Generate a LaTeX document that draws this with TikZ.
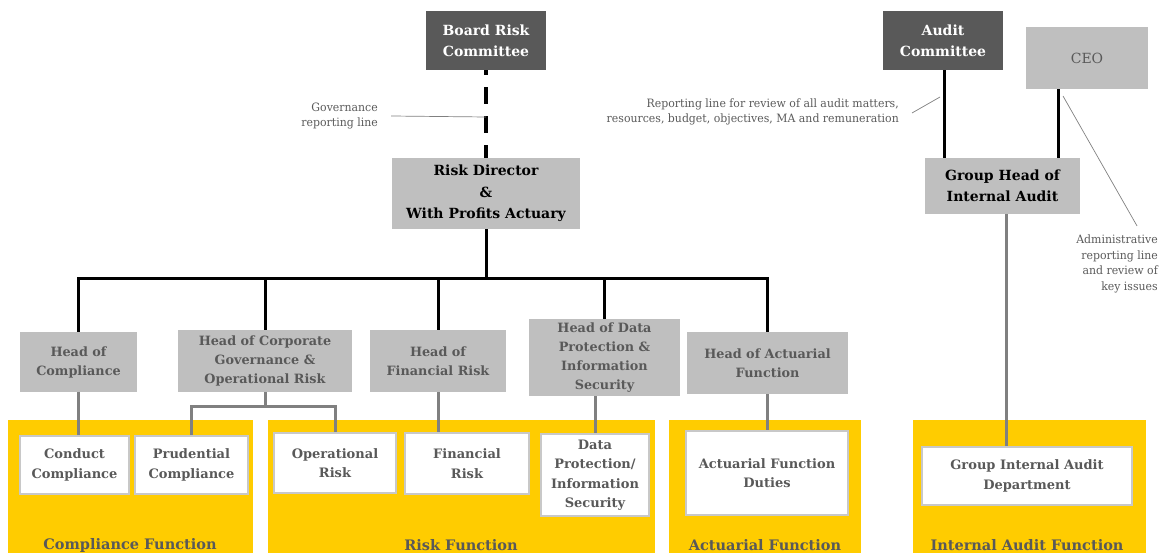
\documentclass[tikz,border=0pt]{standalone}
\usepackage{fontspec}
\setmainfont{DejaVu Serif}
\newfontfamily\notefont{DejaVu Serif}[FakeStretch=0.95]
\usepackage{tikz}
\usetikzlibrary{positioning}

\definecolor{boardgrey}{HTML}{595959}
\definecolor{headgrey}{HTML}{BFBFBF}
\definecolor{txtgrey}{HTML}{595959}
\definecolor{linegrey}{HTML}{808080}
\definecolor{edgegrey}{HTML}{C8C8C8}
\definecolor{notegrey}{HTML}{5A5A5A}
\definecolor{panelyellow}{HTML}{FFCC00}

\tikzset{
  board/.style={fill=boardgrey, text=white, font=\fontsize{14}{21}\selectfont\bfseries, align=center, inner sep=0pt},
  officer/.style={fill=headgrey, text=black, font=\fontsize{14}{21.5}\selectfont\bfseries, align=center, inner sep=0pt},
  head/.style={fill=headgrey, text=txtgrey, font=\fontsize{12.8}{19}\selectfont\bfseries, align=center, inner sep=0pt},
  duty/.style={fill=white, draw=edgegrey, line width=1.2pt, text=txtgrey, font=\fontsize{13}{19.5}\selectfont\bfseries, align=center, inner sep=0pt},
  panel/.style={fill=panelyellow},
  paneltitle/.style={text=txtgrey, font=\fontsize{14.5}{18}\selectfont\bfseries},
  boss/.style={line width=3pt, black},
  subline/.style={line width=3pt, linegrey},
  note/.style={font=\notefont\fontsize{11.5}{15.5}\selectfont, text=notegrey, align=right, inner sep=0pt},
  noteline/.style={line width=0.7pt, linegrey},
}

\begin{document}
\begin{tikzpicture}[x=1pt, y=-1pt]
  \useasboundingbox (0,0) rectangle (1165,553);

  % function panels
  \fill[panel] (8,420) rectangle (253,553);
  \fill[panel] (268,420) rectangle (655,553);
  \fill[panel] (669,420) rectangle (861,553);
  \fill[panel] (913,420) rectangle (1146,553);
  \draw (130,545) node[paneltitle] (compf) {Compliance Function};
  \draw (461,545) node[paneltitle] (riskf) {Risk Function};
  \draw (765,545) node[paneltitle] (actf) {Actuarial Function};
  \draw (1027,545) node[paneltitle] (iaf) {Internal Audit Function};

  % risk side
  \draw (486,40.5) node[board, minimum width=120, minimum height=59] (brc) {Board Risk\\Committee};
  \draw (486,193.5) node[officer, minimum width=188, minimum height=71] (rd) {Risk Director\\\&\\With Profits Actuary};

  \draw (78.5,362) node[head, minimum width=117, minimum height=59] (hcomp) {Head of\\Compliance};
  \draw (265,361) node[head, minimum width=174, minimum height=62] (hcg) {Head of Corporate\\Governance \&\\Operational Risk};
  \draw (438,361) node[head, minimum width=136, minimum height=62] (hfr) {Head of\\Financial Risk};
  \draw (604.5,357.5) node[head, minimum width=151, minimum height=77] (hdp) {Head of Data\\Protection \&\\Information\\Security};
  \draw (767.5,363) node[head, minimum width=161, minimum height=62] (hact) {Head of Actuarial\\Function};

  \draw (74.5,465) node[duty, minimum width=109, minimum height=58] (cc) {Conduct\\Compliance};
  \draw (191.5,465) node[duty, minimum width=113, minimum height=58] (pc) {Prudential\\Compliance};
  \draw (335,463) node[duty, minimum width=122, minimum height=60] (orisk) {Operational\\Risk};
  \draw (467,463.5) node[duty, minimum width=124, minimum height=61] (frisk) {Financial\\Risk};
  \draw (595,475) node[duty, minimum width=108, minimum height=82] (dps) {Data\\Protection/\\Information\\Security};
  \draw (767,473) node[duty, minimum width=162, minimum height=84] (afd) {Actuarial Function\\Duties};

  % audit side
  \draw (943,40.5) node[board, minimum width=120, minimum height=59] (ac) {Audit\\Committee};
  \draw (1087,58) node[head, font=\fontsize{14}{19}\selectfont, minimum width=122, minimum height=62] (ceo) {CEO};
  \draw (1002.5,186) node[officer, minimum width=155, minimum height=56] (ghia) {Group Head of\\Internal Audit};
  \draw (1027,476) node[duty, minimum width=210, minimum height=58] (giad) {Group Internal Audit\\Department};

  % reporting lines
  \draw[line width=4pt, dash pattern=on 17pt off 12pt, dash phase=12pt] (brc.south) -- (rd.north);
  \coordinate (bus) at (486,279);
  \draw[boss] (rd.south) -- (bus);
  \foreach \n in {hcomp,hcg,hfr,hdp,hact}
    \draw[boss] (bus) -| (\n.north);

  \draw[subline] (hcomp.south) -- (hcomp.south |- cc.north);
  \coordinate (split) at (265,406);
  \draw[subline] (hcg.south) -- (split);
  \draw[subline] (split) -| (pc.north);
  \draw[subline] (split) -| (orisk.north);
  \draw[subline] (hfr.south) -- (hfr.south |- frisk.north);
  \draw[subline] (dps.north |- hdp.south) -- (dps.north);
  \draw[subline] (hact.south) -- (hact.south |- afd.north);
  \draw[subline] ([xshift=3.5pt]ghia.south) -- ([xshift=3.5pt]ghia.south |- giad.north);

  \draw[boss] ([xshift=1.5pt]ac.south) -- ([xshift=1.5pt]ac.south |- ghia.north);
  \draw[boss] ([xshift=-29pt]ceo.south) -- ([xshift=-29pt]ceo.south |- ghia.north);

  % notes
  \draw (378,116) node[note, anchor=east] (govnote) {Governance\\reporting line};
  \coordinate (govpt) at (486,117);
  \draw[noteline] ([xshift=13pt]govnote.east) -- (govpt);

  \draw (899,112) node[note, anchor=east] (acnote) {Reporting line for review of all audit matters,\\resources, budget, objectives, MA and remuneration};
  \coordinate (acpt) at (940,97);
  \draw[noteline] ([xshift=13pt,yshift=-1pt]acnote.east) -- (acpt);

  \draw (1158,264) node[note, anchor=east] (ceonote) {Administrative\\reporting line\\and review of\\key issues};
  \coordinate (ceopt) at (1063,96);
  \draw[noteline] (ceopt) -- ([xshift=-21pt,yshift=9pt]ceonote.north east);
\end{tikzpicture}
\end{document}
